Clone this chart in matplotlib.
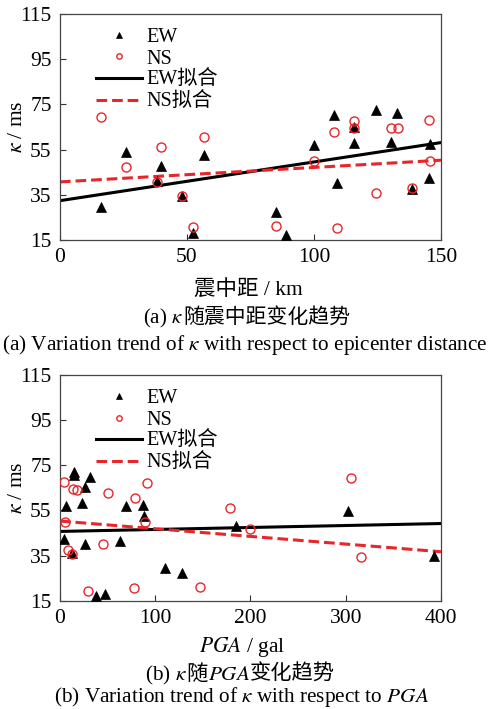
import matplotlib
matplotlib.use('Agg')
import matplotlib.pyplot as plt
from matplotlib.offsetbox import TextArea, HPacker, AnchoredOffsetbox

plt.rcParams['font.family'] = ['Liberation Serif', 'Noto Sans CJK SC']
plt.rcParams['mathtext.fontset'] = 'stix'

# ---------------- data: (a) epicenter distance ----------------
ew_dist = [16.0, 26.0, 39.7, 38.3, 47.9, 52.4, 56.7, 85.2, 89.0, 100.0,
           107.9, 108.9, 115.6, 115.6, 124.4, 130.4, 132.8, 138.6, 145.3, 145.5]
ew_kappa_a = [29.8, 54.0, 47.6, 41.0, 34.5, 18.2, 52.5, 27.4, 17.0, 57.0,
              70.2, 40.2, 65.1, 57.9, 72.6, 58.5, 71.0, 37.4, 42.5, 57.5]
ns_dist = [16.0, 26.1, 39.7, 38.3, 47.9, 52.4, 56.7, 85.2, 100.0, 108.0,
           108.9, 115.6, 115.6, 124.4, 130.3, 133.0, 138.6, 145.3, 145.8]
ns_kappa_a = [69.6, 47.1, 56.2, 40.6, 34.5, 20.9, 60.6, 21.3, 50.0, 62.8,
              20.1, 67.7, 64.4, 35.6, 64.7, 64.7, 38.1, 68.1, 49.9]
fit_x_a = [0, 150]
ew_fit_a = [32.4, 58.1]
ns_fit_a = [40.7, 50.3]

# ---------------- data: (b) PGA ----------------
ew_pga = [14.7, 14.7, 31.6, 26.3, 6.0, 23.2, 68.8, 87.2, 88.6, 4.4,
          26.3, 13.0, 63.5, 38.3, 47.5, 110.2, 127.7, 185.3, 302.8, 393.0]
ew_kappa_b = [72.1, 70.7, 69.7, 65.2, 57.0, 58.2, 56.8, 57.6, 52.5, 42.2,
              40.2, 36.3, 41.5, 17.1, 17.8, 29.5, 27.1, 48.0, 54.6, 34.8]
ns_pga = [4.4, 14.0, 17.5, 50.6, 91.0, 79.0, 5.4, 88.8, 8.8, 13.0,
          45.6, 29.8, 77.2, 146.7, 178.2, 199.3, 305.3, 316.5]
ns_kappa_b = [67.7, 64.4, 64.0, 62.6, 67.3, 60.4, 49.8, 49.8, 37.6, 35.8,
              40.0, 19.5, 20.8, 20.9, 55.9, 46.8, 69.2, 34.2]
fit_x_b = [0, 400]
ew_fit_b = [45.7, 49.2]
ns_fit_b = [50.3, 36.7]

yticks = [15, 35, 55, 75, 95, 115]
xticks_a = [0, 50, 100, 150]
xticks_b = [0, 100, 200, 300, 400]
legend_labels = ['EW', 'NS', 'EW拟合', 'NS拟合']

RED = '#e8262a'
FS = 15.5

fig = plt.figure(figsize=(4.9, 7.09), dpi=100)
ax1 = fig.add_axes([0.1224, 0.6615, 0.7776, 0.3188])
ax2 = fig.add_axes([0.1224, 0.1527, 0.7776, 0.3184])


def panel(ax, xe, ye, xn, yn, fx, fe, fn, xlim, xticks):
    ax.plot(xe, ye, ls='none', marker='^', ms=7, color='black', mew=0.5,
            label=legend_labels[0], zorder=3)
    ax.plot(xn, yn, ls='none', marker='o', ms=6.5, mfc='none', mec=RED,
            mew=1.0, label=legend_labels[1], zorder=4)
    ax.plot(fx, fe, color='black', lw=2.2, label=legend_labels[2], zorder=2)
    ax.plot(fx, fn, color=RED, lw=2.2, ls=(0, (3.5, 1.6)),
            label=legend_labels[3], zorder=2)
    ax.set_xlim(*xlim)
    ax.set_ylim(15, 115)
    ax.set_xticks(xticks)
    ax.set_yticks(yticks)
    ax.tick_params(direction='in', length=4, width=0.8, labelsize=FS,
                   top=False, right=False, pad=6, colors='#333333',
                   labelcolor='black')
    for s in ax.spines.values():
        s.set_color('#444444')
        s.set_linewidth(0.9)
    ax.set_ylabel('$\\kappa$ / ms', fontsize=FS)
    ax.yaxis.set_label_coords(-0.087, 0.5)
    ax.legend(loc='upper left', bbox_to_anchor=(0.095, 0.94),
              frameon=False, fontsize=14.5, handlelength=2.3,
              handletextpad=0.2, labelspacing=0.14, borderaxespad=0,
              borderpad=0, markerscale=0.6)


panel(ax1, ew_dist, ew_kappa_a, ns_dist, ns_kappa_a, fit_x_a, ew_fit_a,
      ns_fit_a, (0, 150), xticks_a)
panel(ax2, ew_pga, ew_kappa_b, ns_pga, ns_kappa_b, fit_x_b, ew_fit_b,
      ns_fit_b, (0, 400), xticks_b)

H = 709.0


def fy(px):
    return 1 - px / H


def rich(x, y, parts, size):
    children = [TextArea(t, textprops=dict(fontsize=size, color='black'))
                for t in parts]
    box = HPacker(children=children, align='baseline', pad=0, sep=0)
    anc = AnchoredOffsetbox(loc='center', child=box, pad=0, borderpad=0,
                            frameon=False, bbox_to_anchor=(x, y),
                            bbox_transform=fig.transFigure)
    fig.add_artist(anc)


# panel (a) labels
fig.text(248 / 490, fy(290), '震中距 / km', ha='center', va='center', fontsize=FS)
rich(247 / 490, fy(318), ['(a) $\\kappa$', '随震中距变化趋势'], 15)
fig.text(245 / 490, fy(345),
         '(a) Variation trend of $\\kappa$ with respect to epicenter distance',
         ha='center', va='center', fontsize=15.3)

# panel (b) labels
fig.text(242 / 490, fy(647), '$PGA$ / gal', ha='center', va='center', fontsize=FS)
rich(240 / 490, fy(675), ['(b) $\\kappa$', '随', '$PGA$', '变化趋势'], 15.3)
fig.text(242 / 490, fy(697),
         '(b) Variation trend of $\\kappa$ with respect to $PGA$',
         ha='center', va='center', fontsize=15.3)

fig.savefig('out.png', dpi=100)
